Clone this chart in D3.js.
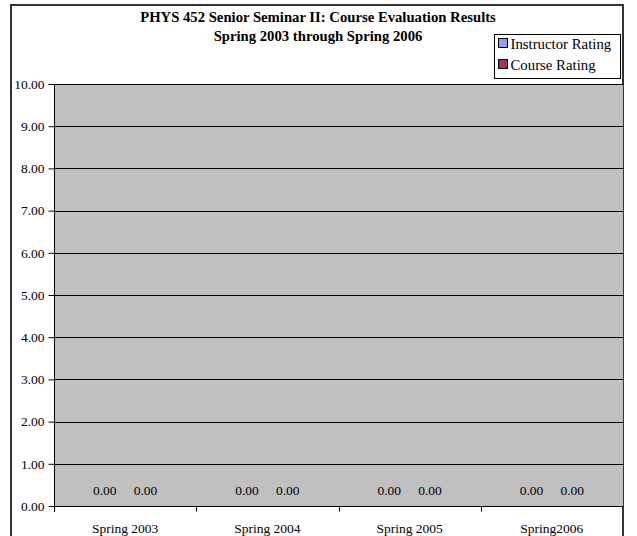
<!DOCTYPE html>
<html>
<head>
<meta charset="utf-8">
<script src="https://cdn.jsdelivr.net/npm/d3@7"></script>
<style>
  html, body { margin: 0; padding: 0; background: #fff; }
  svg text { font-family: "Liberation Serif", "Times New Roman", serif; }
</style>
</head>
<body>
<svg id="chart" width="637" height="536"></svg>
<script>
const titleLines = ["PHYS 452 Senior Seminar II: Course Evaluation Results", "Spring 2003 through Spring 2006"];
const categories = ["Spring 2003", "Spring 2004", "Spring 2005", "Spring2006"];
const seriesNames = ["Instructor Rating", "Course Rating"];
const instructorRating = [0, 0, 0, 0];
const courseRating = [0, 0, 0, 0];
const yTicks = [0, 1, 2, 3, 4, 5, 6, 7, 8, 9, 10];
const colors = ["#9999FF", "#993366"];

const svg = d3.select("#chart");
const plot = { left: 54, right: 623, top: 84, bottom: 506 };

// outer frame
svg.append("rect").attr("x", 11).attr("y", 5).attr("width", 612).attr("height", 540)
  .attr("fill", "#fff").attr("stroke", "#333").attr("stroke-width", 2);

const x = d3.scaleBand().domain(categories).range([plot.left, plot.right]);
const xInner = d3.scaleBand().domain(seriesNames).range([0, x.bandwidth()]).paddingInner(0).paddingOuter(0.75);
const y = d3.scaleLinear().domain([0, 10]).range([plot.bottom, plot.top]);

// plot background
svg.append("rect").attr("x", plot.left).attr("y", plot.top)
  .attr("width", plot.right - plot.left).attr("height", plot.bottom - plot.top)
  .attr("fill", "#C0C0C0");

// gridlines
svg.append("g").selectAll("line").data(yTicks.filter(d => d > 0)).join("line")
  .attr("x1", plot.left).attr("x2", plot.right)
  .attr("y1", d => Math.round(y(d)) + 0.5).attr("y2", d => Math.round(y(d)) + 0.5)
  .attr("stroke", "#000").attr("stroke-width", 1);

// y axis
const yAxis = d3.axisLeft(y).tickValues(yTicks).tickFormat(d3.format(".2f")).tickSize(6).tickPadding(4);
const gy = svg.append("g").attr("transform", `translate(${plot.left + 0.5},0)`).call(yAxis);
gy.select(".domain").attr("d", `M0,${plot.top}V${plot.bottom + 6}`);
gy.selectAll("text").attr("font-size", "13.5px").attr("fill", "#000").style("font-family", "Liberation Serif");

// x axis
const gx = svg.append("g").attr("transform", `translate(0,${plot.bottom + 0.5})`);
gx.append("line").attr("x1", plot.left).attr("x2", plot.right).attr("stroke", "#000");
gx.selectAll("line.tick").data(categories.slice(1)).join("line").attr("class", "tick")
  .attr("x1", d => Math.round(x(d)) + 0.5).attr("x2", d => Math.round(x(d)) + 0.5)
  .attr("y1", 0).attr("y2", 5).attr("stroke", "#000");
gx.selectAll("text").data(categories).join("text")
  .attr("x", d => x(d) + x.bandwidth() / 2).attr("y", 26)
  .attr("text-anchor", "middle").attr("font-size", "13.5px").text(d => d);

// bars and labels
const series = [instructorRating, courseRating];
series.forEach((vals, si) => {
  const g = svg.append("g");
  g.selectAll("rect").data(vals).join("rect")
    .attr("x", (d, i) => x(categories[i]) + xInner(seriesNames[si]))
    .attr("width", xInner.bandwidth())
    .attr("y", d => y(d)).attr("height", d => y(0) - y(d))
    .attr("fill", colors[si]).attr("stroke", "#000");
  g.selectAll("text").data(vals).join("text")
    .attr("x", (d, i) => x(categories[i]) + xInner(seriesNames[si]) + xInner.bandwidth() / 2)
    .attr("y", d => y(d) - 11)
    .attr("text-anchor", "middle").attr("font-size", "13.5px")
    .text(d => d3.format(".2f")(d));
});

// title
svg.append("g").selectAll("text").data(titleLines).join("text")
  .attr("x", 318).attr("y", (d, i) => 22 + i * 19)
  .attr("text-anchor", "middle").attr("font-size", "14.7px").attr("font-weight", "bold")
  .text(d => d);

// legend
const lg = svg.append("g");
lg.append("rect").attr("x", 494.5).attr("y", 34.5).attr("width", 126).attr("height", 44)
  .attr("fill", "#fff").attr("stroke", "#000");
seriesNames.forEach((name, i) => {
  lg.append("rect").attr("x", 498.5).attr("y", 38.5 + i * 21).attr("width", 9).attr("height", 9)
    .attr("fill", colors[i]).attr("stroke", "#000");
  lg.append("text").attr("x", 510.5).attr("y", 48.5 + i * 21).attr("font-size", "14.8px").text(name);
});
</script>
</body>
</html>
